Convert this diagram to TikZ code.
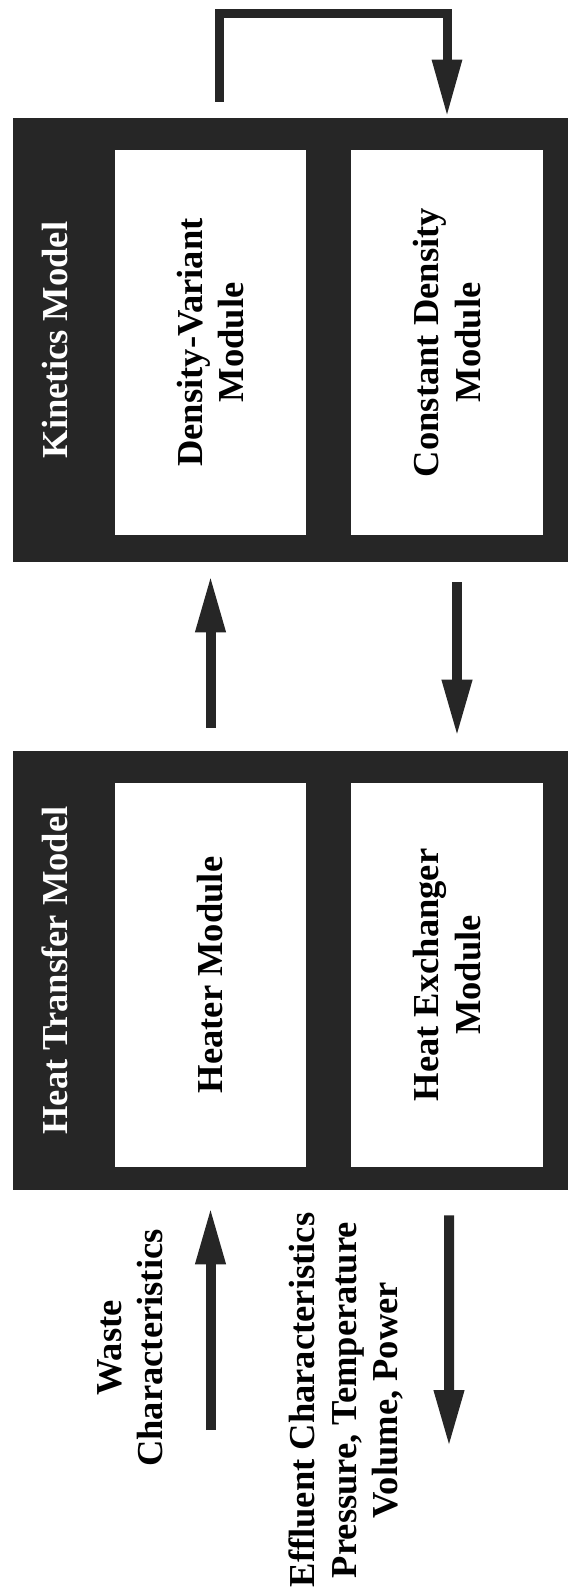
\documentclass[tikz,border=0pt]{standalone}
\usepackage{fontspec}
\setmainfont{Liberation Serif}
\usetikzlibrary{arrows.meta,calc}
\definecolor{ink}{RGB}{38,38,38}
\tikzset{
    model/.style={fill=ink, inner sep=0pt, minimum width=11.1cm},
    module/.style={fill=white, rotate=90, inner sep=0pt, align=center,
                   minimum width=7.7cm, minimum height=3.83cm},
    modeltitle/.style={text=white, rotate=90},
    note/.style={rotate=90, align=center},
    flow/.style={-{Triangle[length=1.14cm,width=0.56cm]}, line width=0.2cm, draw=ink},
    feedback/.style={flow, line width=0.18cm},
}

\begin{document}
\begin{tikzpicture}[font={\fontsize{20.8}{23.5}\selectfont\bfseries}]
    \path[use as bounding box] (0,0) rectangle (11.36,-31.92);

    % the two models
    \node[model, minimum height=8.88cm] (kin) at (5.81,-6.8) {};
    \node[model, minimum height=8.78cm] (heat) at (5.81,-19.41) {};
    \node[modeltitle] (kintitle) at (1.1,-6.8) {Kinetics Model};
    \node[modeltitle] (heattitle) at (1.1,-19.41) {Heat Transfer Model};

    \node[module] (dens) at (4.21,-6.85) {Density-Variant\\Module};
    \node[module] (const) at (8.94,-6.85) {Constant Density\\Module};
    \node[module, minimum width=7.68cm] (heater) at (4.21,-19.5) {Heater Module};
    \node[module, minimum width=7.68cm] (exch) at (8.94,-19.5) {Heat Exchanger\\Module};

    % loop back over the kinetics model
    \draw[feedback, shorten >=0.02cm] ($(dens |- kin.north)+(0.18,0.32)$)
        |- ($(const |- kin.north)+(0,2.08)$) -- (const |- kin.north);

    % between the models
    \draw[flow, shorten <=0.46cm, shorten >=0.26cm] (heater |- heat.north) -- (dens |- kin.south);
    \draw[flow, shorten <=0.4cm, shorten >=0.28cm]
        ($(const |- kin.south)+(0.2,0)$) -- ($(exch |- heat.north)+(0.2,0)$);

    % in and out
    \coordinate (wastein) at (4.21,-28.6);
    \coordinate (effout) at (8.98,-28.94);
    \draw[flow, shorten >=0.34cm] (wastein) -- (heater |- heat.south);
    \draw[flow, shorten <=0.5cm] ($(exch |- heat.south)+(0.04,0)$) -- (effout);

    \node[note] (waste) at (2.6,-26.96) {Waste\\Characteristics};
    \node[note] (effluent) at (6.92,-28.0)
        {Effluent Characteristics\\Pressure, Temperature\\Volume, Power};
\end{tikzpicture}
\end{document}
